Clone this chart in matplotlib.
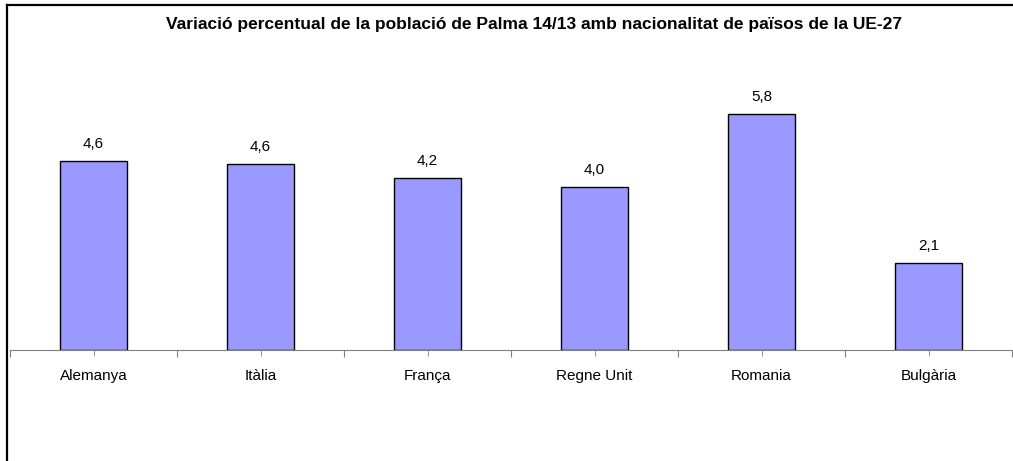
import numpy as np
import matplotlib
matplotlib.use("Agg")
from matplotlib import pyplot as plt
from matplotlib.lines import Line2D

plt.rcParams['font.family'] = ['Liberation Sans', 'DejaVu Sans']

categories = ["Alemanya", "Itàlia", "França", "Regne Unit", "Romania", "Bulgària"]
values = [4.64, 4.57, 4.23, 4.0, 5.8, 2.14]
title = "Variació percentual de la població de Palma 14/13 amb nacionalitat de països de la UE-27"

W, H = 1013, 461
fig = plt.figure(figsize=(W / 100, H / 100), dpi=100)
# marc del gràfic (només vores superior i esquerra visibles)
fig.lines.append(Line2D([6.5 / W, 1.0], [1 - 5.5 / H, 1 - 5.5 / H], transform=fig.transFigure,
                        color='black', linewidth=1.6))
fig.lines.append(Line2D([6.5 / W, 6.5 / W], [0, 1 - 5.5 / H], transform=fig.transFigure,
                        color='black', linewidth=1.6))

ax = fig.add_axes([10 / W, (H - 350) / H, (1012 - 10) / W, (350 - 65) / H])
x = np.arange(len(categories))
ax.bar(x, values, width=0.4, color='#9999FF', edgecolor='black', linewidth=1)
for xi, v in zip(x, values):
    ax.text(xi, v + 0.25, f"{v:.1f}".replace('.', ','), ha='center', va='bottom', fontsize=11)

ax.set_xlim(-0.5, len(categories) - 0.5)
ax.set_ylim(0, 7)
for s in ['top', 'right', 'left']:
    ax.spines[s].set_visible(False)
ax.spines['bottom'].set_color('#808080')
ax.set_yticks([])
ax.set_xticks(np.arange(-0.5, len(categories)))
ax.set_xticklabels([])
ax.set_xticks(x, minor=True)
ax.set_xticklabels(categories, minor=True, fontsize=11)
ax.tick_params(axis='x', which='both', length=4, color='#808080', pad=10)
ax.tick_params(axis='x', which='major', length=5)

fig.text(534 / W, (H - 25) / H, title, ha='center', va='center', fontsize=12.5, fontweight='bold')

fig.savefig("out.png", dpi=100)
